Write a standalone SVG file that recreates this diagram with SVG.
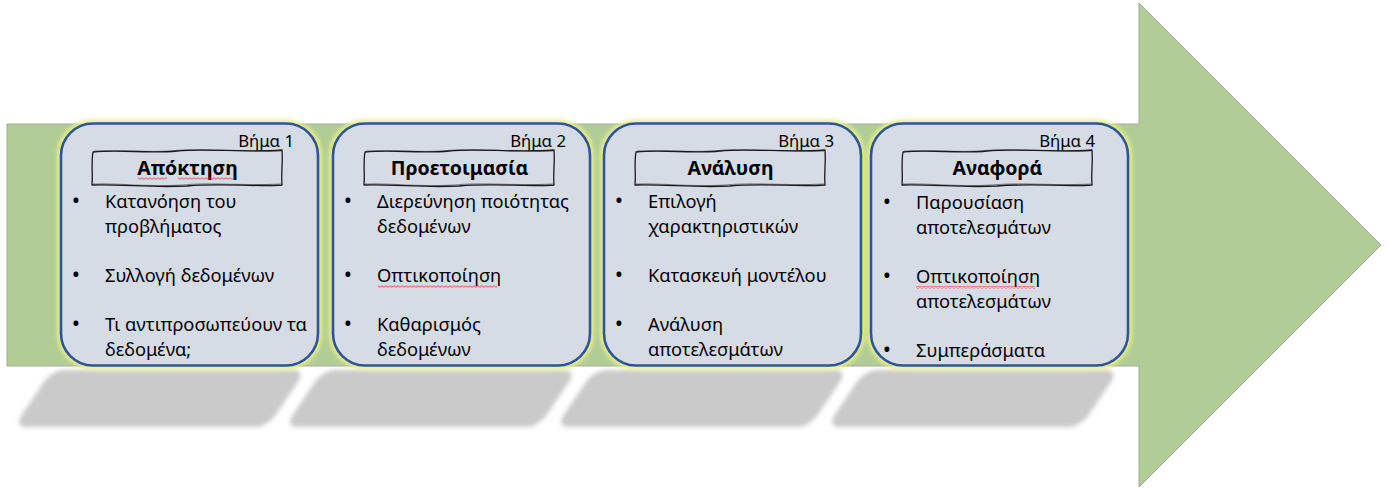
<svg xmlns="http://www.w3.org/2000/svg" width="1389" height="489" viewBox="0 0 1389 489">
<style>
.card{fill:#d6dce5;stroke:#2f5597;stroke-width:2.6}
.glow{fill:none;stroke:#e8ef8a;stroke-width:8}
.tbox{fill:none;stroke:#1a1a1a;stroke-width:1.3;stroke-linejoin:round}
.tbox2{fill:none;stroke:#1a1a1a;stroke-width:0.7;opacity:0.7}
.t{font-family:"Noto Sans","Open Sans","DejaVu Sans",sans-serif;font-size:18.3px;fill:#000}
.b{font-family:"Noto Sans","Open Sans","DejaVu Sans",sans-serif;font-size:22px;fill:#000;text-anchor:middle}
.title{font-family:"Noto Sans","Open Sans","DejaVu Sans",sans-serif;font-size:19.5px;font-weight:bold;text-anchor:middle;fill:#000}
.step{font-family:"Noto Sans","Open Sans","DejaVu Sans",sans-serif;font-size:16.8px;text-anchor:end;fill:#000}
.sh{fill:#cacaca}
.sq{fill:url(#squig)}
.arrow{fill:#b1cd95;stroke:#a6a6a6;stroke-width:1}
</style>
<defs>
<filter id="blur" x="-10%" y="-40%" width="120%" height="180%"><feGaussianBlur stdDeviation="2.2"/></filter>
<filter id="gblur" x="-10%" y="-10%" width="120%" height="120%"><feGaussianBlur stdDeviation="2"/></filter>
<pattern id="squig" width="4" height="3" patternUnits="userSpaceOnUse"><path d="M0,2.3 L2,0.7 L4,2.3" fill="none" stroke="#e03030" stroke-width="0.8"/></pattern>
<path id="tb" d="M1,3 C30,0 55,5 85,2 C115,-1 150,4 190,1 C191,12 189,25 190,36 C160,38 130,34 95,37 C60,39 30,35 0,36 C1,25 -1,14 1,3 Z"/>
<path id="tb2" d="M2,2 C35,1 60,4 90,1 C120,0 155,3 189,2 M189,35 C150,37 120,33 90,36 C55,38 25,34 1,35"/>
<rect id="cs" width="257" height="242" rx="32"/>
</defs>

<g id="shadows" filter="url(#blur)">
<rect class="sh" x="52" y="0" width="254" height="57" rx="12" transform="translate(0,370) skewX(-34)"/>
<rect class="sh" x="323" y="0" width="254" height="57" rx="12" transform="translate(0,370) skewX(-34)"/>
<rect class="sh" x="594" y="0" width="254" height="57" rx="12" transform="translate(0,370) skewX(-34)"/>
<rect class="sh" x="865" y="0" width="254" height="57" rx="12" transform="translate(0,370) skewX(-34)"/>
</g>

<g id="arrow">
<path class="arrow" d="M7,124 H1139 V3 L1381,245 L1139,487 V366 H7 Z"/>
</g>

<g id="connectors"/>

<g id="step1">
<use href="#cs" x="61" y="123.5" class="glow" filter="url(#gblur)"/>
<use href="#cs" x="61" y="123.5" class="card"/>
<text class="step" x="294" y="147">Βήμα 1</text>
<use href="#tb" class="tbox" transform="translate(92,149)"/>
<use href="#tb2" class="tbox2" transform="translate(92,149)"/>
<text class="title" x="187.5" y="175">Απόκτηση</text>
<rect class="sq" x="138" y="177" width="29" height="3"/>
<rect class="sq" x="178" y="177" width="57" height="3"/>
<text class="b" x="76" y="208">•</text>
<text class="t" x="105" y="208">Κατανόηση του</text>
<text class="t" x="105" y="233">προβλήματος</text>
<text class="b" x="76" y="282">•</text>
<text class="t" x="105" y="282">Συλλογή δεδομένων</text>
<text class="b" x="76" y="331">•</text>
<text class="t" x="105" y="331">Τι αντιπροσωπεύουν τα</text>
<text class="t" x="105" y="356">δεδομένα;</text>
</g>

<g id="step2">
<use href="#cs" x="333" y="123.5" class="glow" filter="url(#gblur)"/>
<use href="#cs" x="333" y="123.5" class="card"/>
<text class="step" x="566" y="147">Βήμα 2</text>
<use href="#tb" class="tbox" transform="translate(364,149)"/>
<use href="#tb2" class="tbox2" transform="translate(364,149)"/>
<text class="title" x="459.5" y="175">Προετοιμασία</text>
<text class="b" x="348" y="208">•</text>
<text class="t" x="377" y="208">Διερεύνηση ποιότητας</text>
<text class="t" x="377" y="233">δεδομένων</text>
<text class="b" x="348" y="282">•</text>
<text class="t" x="377" y="282">Οπτικοποίηση</text>
<rect class="sq" x="378" y="285" width="119" height="3"/>
<text class="b" x="348" y="331">•</text>
<text class="t" x="377" y="331">Καθαρισμός</text>
<text class="t" x="377" y="356">δεδομένων</text>
</g>

<g id="step3">
<use href="#cs" x="604" y="123.5" class="glow" filter="url(#gblur)"/>
<use href="#cs" x="604" y="123.5" class="card"/>
<text class="step" x="834" y="147">Βήμα 3</text>
<use href="#tb" class="tbox" transform="translate(635,149)"/>
<use href="#tb2" class="tbox2" transform="translate(635,149)"/>
<text class="title" x="730.5" y="175">Ανάλυση</text>
<text class="b" x="619" y="208">•</text>
<text class="t" x="648" y="208">Επιλογή</text>
<text class="t" x="648" y="233">χαρακτηριστικών</text>
<text class="b" x="619" y="282">•</text>
<text class="t" x="648" y="282">Κατασκευή μοντέλου</text>
<text class="b" x="619" y="331">•</text>
<text class="t" x="648" y="331">Ανάλυση</text>
<text class="t" x="648" y="356">αποτελεσμάτων</text>
</g>

<g id="step4">
<use href="#cs" x="871" y="123.5" class="glow" filter="url(#gblur)"/>
<use href="#cs" x="871" y="123.5" class="card"/>
<text class="step" x="1095" y="147">Βήμα 4</text>
<use href="#tb" class="tbox" transform="translate(902,149)"/>
<use href="#tb2" class="tbox2" transform="translate(902,149)"/>
<text class="title" x="997.5" y="175">Αναφορά</text>
<text class="b" x="887" y="209">•</text>
<text class="t" x="916" y="209">Παρουσίαση</text>
<text class="t" x="916" y="234">αποτελεσμάτων</text>
<text class="b" x="887" y="283">•</text>
<text class="t" x="916" y="283">Οπτικοποίηση</text>
<rect class="sq" x="916" y="286" width="119" height="3"/>
<text class="t" x="916" y="308">αποτελεσμάτων</text>
<text class="b" x="887" y="357">•</text>
<text class="t" x="916" y="357">Συμπεράσματα</text>
</g>
</svg>
